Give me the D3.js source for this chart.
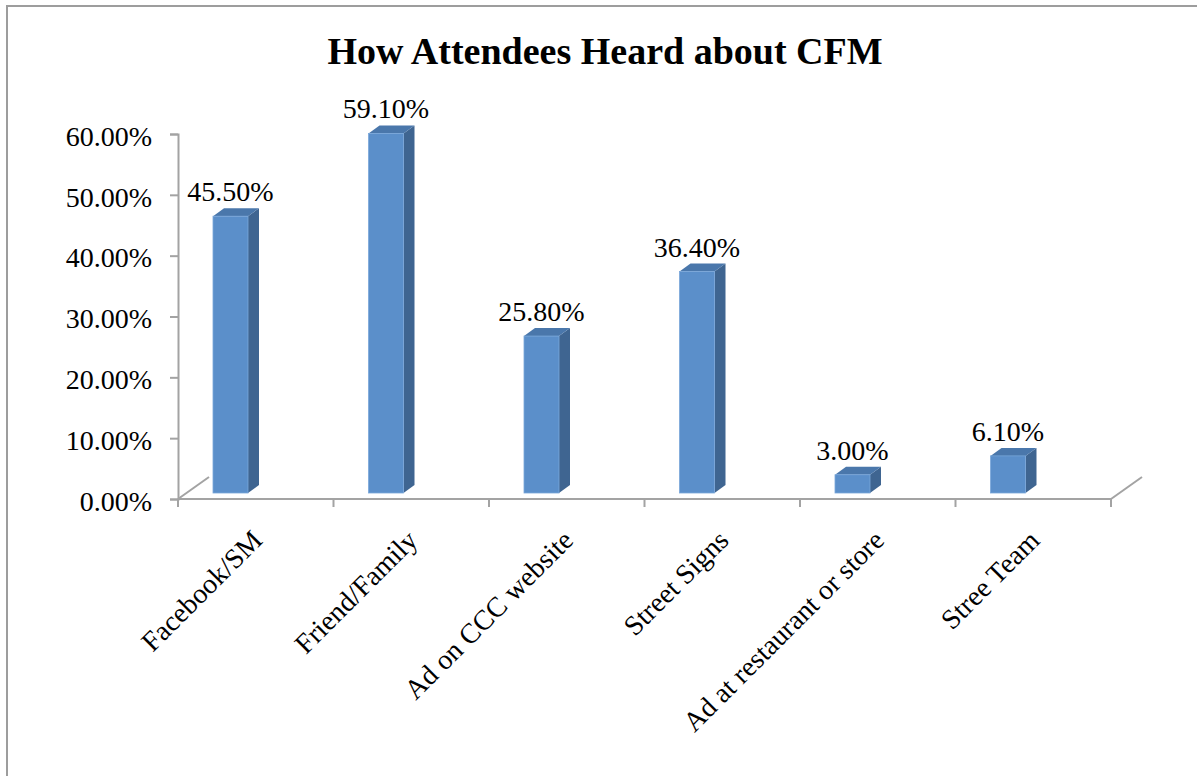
<!DOCTYPE html>
<html>
<head>
<meta charset="utf-8">
<script src="https://cdn.jsdelivr.net/npm/d3@7"></script>
<style>
  html, body { margin: 0; padding: 0; background: #fff; }
  svg { display: block; font-family: "Liberation Serif", "Times New Roman", serif; }
</style>
</head>
<body>
<svg id="chart" width="1197" height="776"></svg>
<script>
// Survey results: how attendees heard about CFM
const categories = ["Facebook/SM", "Friend/Family", "Ad on CCC website", "Street Signs", "Ad at restaurant or store", "Stree Team"];
const values = [0.455, 0.591, 0.258, 0.364, 0.030, 0.061];
const yTicks = [0, 0.1, 0.2, 0.3, 0.4, 0.5, 0.6];
const title = "How Attendees Heard about CFM";

const svg = d3.select("#chart");
const W = 1197, H = 776;

// chart frame
svg.append("rect")
  .attr("x", 7).attr("y", 6)
  .attr("width", W + 20).attr("height", H + 20)
  .attr("fill", "#fff")
  .attr("stroke", "#9d9d9d").attr("stroke-width", 2);

// plot geometry
const x0 = 178, x1 = 1111;
const yBase = 499, yTop = 134;
const floorDx = 31, floorDy = -22;   // depth of the floor
const barDx = 11, barDy = -8;        // depth of each bar
const barLift = 6;                   // bars stand back from the front floor edge

const x = d3.scaleBand().domain(categories).range([x0, x1]).padding(0);
const y = d3.scaleLinear().domain([0, 0.6]).range([yBase, yTop]);

const axisColor = "#a3a3a3";

// floor outline
const floor = svg.append("g").attr("stroke", axisColor).attr("stroke-width", 2).attr("fill", "none");
floor.append("line").attr("x1", x0).attr("y1", yBase).attr("x2", x0 + floorDx).attr("y2", yBase + floorDy);
floor.append("line").attr("x1", x1).attr("y1", yBase).attr("x2", x1 + floorDx).attr("y2", yBase + floorDy);

// value axis
const yAxis = svg.append("g")
  .attr("transform", `translate(${x0},0)`)
  .call(d3.axisLeft(y).tickValues(yTicks).tickFormat(d3.format(".2%")).tickSize(8).tickPadding(18));
yAxis.select(".domain").attr("stroke", axisColor).attr("stroke-width", 2);
yAxis.selectAll(".tick line").attr("stroke", axisColor).attr("stroke-width", 2);
yAxis.selectAll(".tick text")
  .attr("font-family", "Liberation Serif, serif")
  .attr("font-size", 28).attr("fill", "#000")
  .attr("dy", "0.40em");

// category axis (front floor edge with boundary ticks)
const bounds = categories.map(c => x(c)).concat([x1]);
const xAxis = svg.append("g");
xAxis.append("line")
  .attr("x1", x0).attr("y1", yBase).attr("x2", x1).attr("y2", yBase)
  .attr("stroke", axisColor).attr("stroke-width", 2);
xAxis.selectAll("line.tick").data(bounds).join("line")
  .attr("class", "tick")
  .attr("x1", d => d).attr("x2", d => d)
  .attr("y1", yBase).attr("y2", yBase + 8)
  .attr("stroke", axisColor).attr("stroke-width", 2);

xAxis.selectAll("text.cat").data(categories).join("text")
  .attr("class", "cat")
  .attr("text-anchor", "end")
  .attr("font-size", 28)
  .attr("fill", "#000")
  .attr("transform", d => `translate(${x(d) + x.bandwidth() / 2 + 8},${yBase + 43}) rotate(-45)`)
  .text(d => d);

// 3D columns
const barOffset = 35, barW = 35;
const bars = svg.append("g").selectAll("g").data(categories.map((c, i) => ({ c, v: values[i] }))).join("g");

const left = d => x(d.c) + barOffset;
const bottom = yBase - barLift;
const topY = d => y(d.v) - barLift;

bars.append("path") // side face
  .attr("d", d => `M${left(d) + barW},${bottom} L${left(d) + barW + barDx},${bottom + barDy} L${left(d) + barW + barDx},${topY(d) + barDy} L${left(d) + barW},${topY(d)} Z`)
  .attr("fill", "#3f6591");
bars.append("path") // top face
  .attr("d", d => `M${left(d)},${topY(d)} L${left(d) + barDx},${topY(d) + barDy} L${left(d) + barW + barDx},${topY(d) + barDy} L${left(d) + barW},${topY(d)} Z`)
  .attr("fill", "#4a77ab");
bars.append("rect") // front face
  .attr("x", d => left(d))
  .attr("y", d => topY(d))
  .attr("width", barW)
  .attr("height", d => bottom - topY(d))
  .attr("fill", "#5b8fca")
  .attr("stroke", "#7aa7da").attr("stroke-width", 0.8);

// value labels
bars.append("text")
  .attr("x", d => left(d) + barW / 2)
  .attr("y", d => topY(d) - 15)
  .attr("text-anchor", "middle")
  .attr("font-size", 28)
  .attr("fill", "#000")
  .text(d => d3.format(".2%")(d.v));

// title
svg.append("text")
  .attr("x", 605).attr("y", 64)
  .attr("text-anchor", "middle")
  .attr("font-size", 38).attr("font-weight", "bold")
  .attr("fill", "#000")
  .text(title);
</script>
</body>
</html>
